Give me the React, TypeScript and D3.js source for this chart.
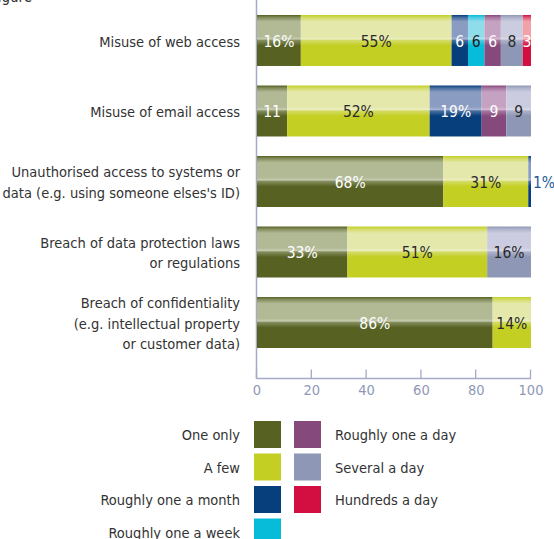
import React from "react";
import * as d3 from "d3";

const categories = [
  ["Misuse of web access"],
  ["Misuse of email access"],
  ["Unauthorised access to systems or", "data (e.g. using someone elses's ID)"],
  ["Breach of data protection laws", "or regulations"],
  ["Breach of confidentiality", "(e.g. intellectual property", "or customer data)"],
];
const seriesNames = [
  "One only",
  "A few",
  "Roughly one a month",
  "Roughly one a week",
  "Roughly one a day",
  "Several a day",
  "Hundreds a day",
];
const oneOnly = [16, 11, 68, 33, 86];
const aFew = [55, 52, 31, 51, 14];
const oneAMonth = [6, 19, 1, 0, 0];
const oneAWeek = [6, 0, 0, 0, 0];
const oneADay = [6, 9, 0, 0, 0];
const severalADay = [8, 9, 0, 16, 0];
const hundredsADay = [3, 0, 0, 0, 0];
const xTicks = [0, 20, 40, 60, 80, 100];

const seriesValues = [oneOnly, aFew, oneAMonth, oneAWeek, oneADay, severalADay, hundredsADay];
const dark = ["#566122", "#c3cf22", "#063f7b", "#06bcd9", "#86497c", "#8e97b5", "#d20f40"];
const light = ["#b2b995", "#e4e8aa", "#8a9cc2", "#8fdcea", "#c6a2c2", "#cbcce0", "#f1a2a8"];
const textCol = ["#ffffff", "#2a2a2a", "#ffffff", "#1e1e1e", "#ffffff", "#2a2a2a", "#ffffff"];

const FONT = "'Liberation Sans Narrow', 'DejaVu Sans Condensed', 'Roboto', sans-serif";

export default function App() {
  const W = 554, H = 539;
  const x = d3.scaleLinear().domain([0, 100]).range([257, 531]);
  const y = d3
    .scaleBand<number>()
    .domain(d3.range(categories.length))
    .range([15, 348])
    .paddingInner(0.277)
    .paddingOuter(0);

  const rows = categories.map((_, i) => {
    const o: Record<string, number> = {};
    seriesNames.forEach((s, k) => (o[s] = seriesValues[k][i]));
    return o;
  });
  const stacked = d3.stack<Record<string, number>>().keys(seriesNames)(rows);

  const axisY = 378.5;
  const axisColor = "#a4aac7";

  const legendLeft = [0, 1, 2, 3];
  const legendRight = [4, 5, 6];
  const legY = (r: number) => 421 + r * 32.5;

  return (
    <svg
      width={W}
      height={H}
      style={{ position: "absolute", left: 0, top: 0, background: "#fff" }}
      fontFamily={FONT}
    >
      <defs>
        {dark.map((c, k) => (
          <linearGradient key={k} id={`g${k}`} x1="0" y1="0" x2="0" y2="1">
            <stop offset="0" stopColor={c} />
            <stop offset="0.05" stopColor={d3.interpolateRgb(c, light[k])(0.5)} />
            <stop offset="0.13" stopColor={light[k]} />
            <stop offset="0.42" stopColor={light[k]} />
            <stop offset="0.47" stopColor={d3.interpolateRgb(light[k], "#ffffff")(0.25)} />
            <stop offset="0.5" stopColor={d3.interpolateRgb(light[k], c)(0.5)} />
            <stop offset="0.6" stopColor={c} />
            <stop offset="1" stopColor={c} />
          </linearGradient>
        ))}
      </defs>

      <text x={-9} y={2} fontSize={15} fill="#333">Figure</text>

      {/* axis */}
      <line x1={256.5} x2={256.5} y1={0} y2={axisY} stroke={axisColor} strokeWidth={1.5} />
      <line x1={256.5} x2={x(100)} y1={axisY} y2={axisY} stroke={axisColor} strokeWidth={1.5} />
      {xTicks.map((t) => (
        <g key={t}>
          <line x1={x(t) - 0.5} x2={x(t) - 0.5} y1={axisY - 9} y2={axisY} stroke={axisColor} strokeWidth={1.3} />
          <text
            x={x(t)}
            y={390}
            dy="0.35em"
            textAnchor="middle"
            fontSize={14.5}
            fill="#8f98b8"
          >
            {t}
          </text>
        </g>
      ))}

      {/* bars */}
      {stacked.map((layer, k) =>
        layer.map((d, i) => {
          const v = d[1] - d[0];
          if (v <= 0) return null;
          const y0 = y(i)!;
          const bw = y.bandwidth();
          return (
            <rect
              key={`${k}-${i}`}
              x={x(d[0])}
              y={y0}
              width={x(d[1]) - x(d[0])}
              height={bw}
              fill={`url(#g${k})`}
            />
          );
        })
      )}
      {stacked.map((layer, k) =>
        layer.map((d, i) => {
          const v = d[1] - d[0];
          if (v <= 0) return null;
          const cy = y(i)! + y.bandwidth() / 2 + 1;
          const outside = v < 2;
          const label = v >= 12 || outside ? `${v}%` : `${v}`;
          return (
            <text
              key={`t${k}-${i}`}
              x={outside ? x(d[1]) + 2 : (x(d[0]) + x(d[1])) / 2}
              y={cy}
              dy="0.35em"
              textAnchor={outside ? "start" : "middle"}
              fontSize={15.5}
              fill={outside ? "#1d5a96" : textCol[k]}
            >
              {label}
            </text>
          );
        })
      )}

      {/* category labels */}
      {categories.map((lines, i) => {
        const cy = y(i)! + y.bandwidth() / 2 + 1;
        const lh = 20.5;
        const start = cy - ((lines.length - 1) * lh) / 2;
        return (
          <text key={i} textAnchor="end" fontSize={14.5} fill="#333">
            {lines.map((l, j) => (
              <tspan key={j} x={240} y={start + j * lh} dy="0.35em">
                {l}
              </tspan>
            ))}
          </text>
        );
      })}

      {/* legend */}
      {legendLeft.map((k, r) => (
        <g key={`ll${k}`}>
          <rect x={254} y={legY(r)} width={27} height={27} fill={dark[k]} />
          <text x={240} y={legY(r) + 14} dy="0.35em" textAnchor="end" fontSize={14.5} fill="#333">
            {seriesNames[k]}
          </text>
        </g>
      ))}
      {legendRight.map((k, r) => (
        <g key={`lr${k}`}>
          <rect x={294} y={legY(r)} width={27} height={27} fill={dark[k]} />
          <text x={335} y={legY(r) + 14} dy="0.35em" textAnchor="start" fontSize={14.5} fill="#333">
            {seriesNames[k]}
          </text>
        </g>
      ))}
    </svg>
  );
}
